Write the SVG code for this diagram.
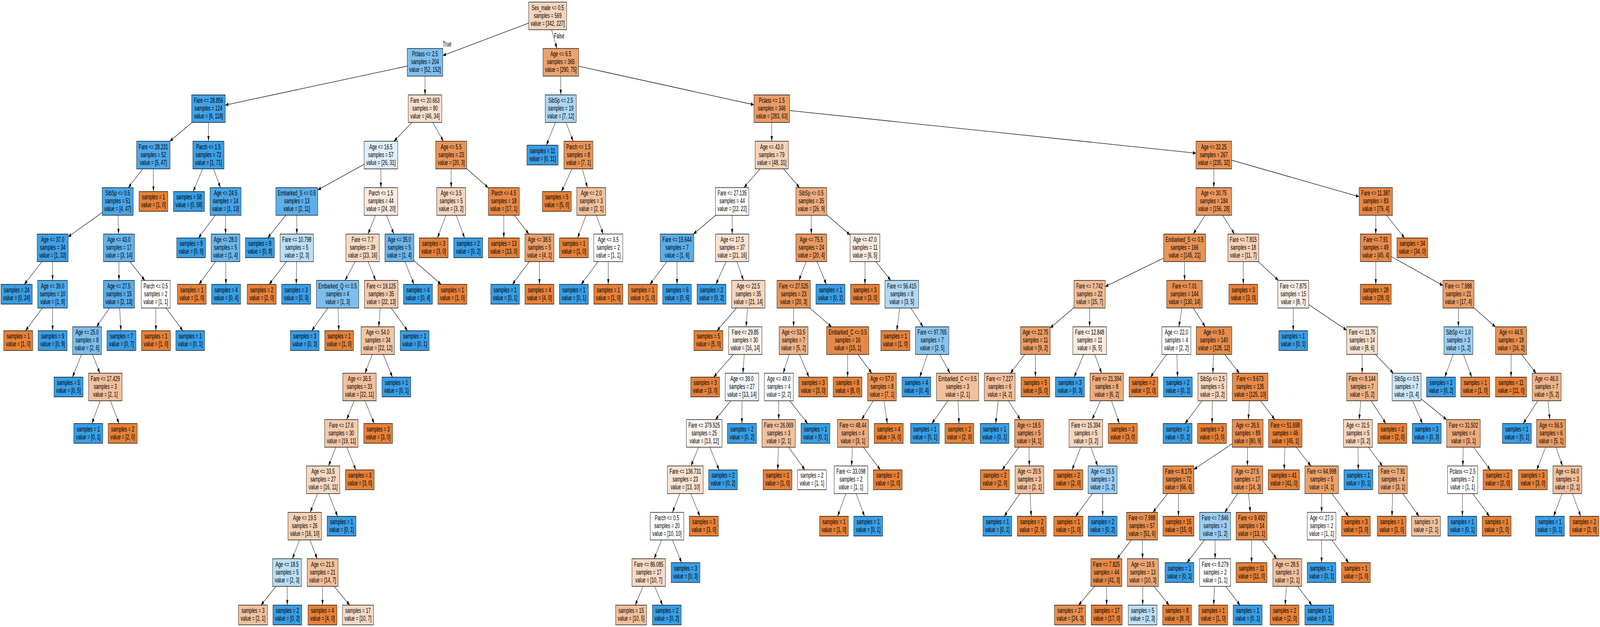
<svg xmlns="http://www.w3.org/2000/svg" width="7007" height="1604" viewBox="0 0 7007 1604" preserveAspectRatio="none">
<defs>
<style>
svg{max-width:100vw}
.nd rect{stroke:#000;stroke-width:1.33}
text{font-family:"Liberation Sans",Arial,Helvetica,sans-serif;font-size:18.67px;text-anchor:middle;fill:#000}
.o{fill:#e58139}.u{fill:#399de5}.w{fill:#ffffff}
</style>
<marker id="ah" markerUnits="userSpaceOnUse" markerWidth="14" markerHeight="10" refX="13.3" refY="4.67" orient="auto" overflow="visible"><path d="M0,0L13.3,4.67L0,9.33z" fill="#000"/></marker>
</defs>
<rect x="0" y="0" width="7007" height="1604" fill="#fff"/>
<g id="connectors" stroke="#000" stroke-width="1.33" fill="none" marker-end="url(#ah)">
<line x1="2398.6" y1="40.67" x2="1939.3" y2="142.12"/>
<line x1="2398.6" y1="40.67" x2="2438.91" y2="124.01"/>
<line x1="1861.35" y1="159.34" x2="986.5" y2="268.81"/>
<line x1="1861.35" y1="159.34" x2="1861.3" y2="242.68"/>
<line x1="913" y1="278.01" x2="743.44" y2="361.35"/>
<line x1="913" y1="278.01" x2="913" y2="361.35"/>
<line x1="671.55" y1="396.68" x2="562.03" y2="480.02"/>
<line x1="671.55" y1="396.68" x2="671.86" y2="490.07"/>
<line x1="515.6" y1="515.35" x2="298.5" y2="605.75"/>
<line x1="515.6" y1="515.35" x2="519.25" y2="598.69"/>
<line x1="230.6" y1="634.02" x2="106.38" y2="727.41"/>
<line x1="230.6" y1="634.02" x2="230.32" y2="717.36"/>
<line x1="230.2" y1="752.69" x2="111.88" y2="846.08"/>
<line x1="230.2" y1="752.69" x2="230.48" y2="846.08"/>
<line x1="520.8" y1="634.02" x2="520.8" y2="717.36"/>
<line x1="520.8" y1="634.02" x2="634.01" y2="717.36"/>
<line x1="520.8" y1="752.69" x2="422.83" y2="836.03"/>
<line x1="520.8" y1="752.69" x2="529.61" y2="846.08"/>
<line x1="381.3" y1="871.36" x2="317.28" y2="964.75"/>
<line x1="381.3" y1="871.36" x2="437.38" y2="954.7"/>
<line x1="461.15" y1="990.03" x2="402.44" y2="1083.42"/>
<line x1="461.15" y1="990.03" x2="521.04" y2="1083.42"/>
<line x1="682" y1="752.69" x2="682.59" y2="846.08"/>
<line x1="682" y1="752.69" x2="800.87" y2="846.08"/>
<line x1="912.95" y1="396.68" x2="845.7" y2="490.07"/>
<line x1="912.95" y1="396.68" x2="965.59" y2="480.02"/>
<line x1="987.9" y1="515.35" x2="869.03" y2="608.74"/>
<line x1="987.9" y1="515.35" x2="987.65" y2="598.69"/>
<line x1="987.55" y1="634.02" x2="871.31" y2="727.41"/>
<line x1="987.55" y1="634.02" x2="989.6" y2="727.41"/>
<line x1="1861.3" y1="278.01" x2="1725.62" y2="361.35"/>
<line x1="1861.3" y1="278.01" x2="1941.78" y2="361.35"/>
<line x1="1668.1" y1="396.68" x2="1391.6" y2="485.77"/>
<line x1="1668.1" y1="396.68" x2="1668.1" y2="480.02"/>
<line x1="1299.8" y1="515.35" x2="1172.39" y2="608.74"/>
<line x1="1299.8" y1="515.35" x2="1299.84" y2="598.69"/>
<line x1="1299.85" y1="634.02" x2="1178.85" y2="727.41"/>
<line x1="1299.85" y1="634.02" x2="1297.49" y2="727.41"/>
<line x1="1668.1" y1="515.35" x2="1611.74" y2="598.69"/>
<line x1="1668.1" y1="515.35" x2="1724.91" y2="598.69"/>
<line x1="1587.85" y1="634.02" x2="1511.06" y2="717.36"/>
<line x1="1587.85" y1="634.02" x2="1645.19" y2="717.36"/>
<line x1="1478.5" y1="752.69" x2="1365.22" y2="846.08"/>
<line x1="1478.5" y1="752.69" x2="1483.81" y2="846.08"/>
<line x1="1669.5" y1="752.69" x2="1658.79" y2="836.03"/>
<line x1="1669.5" y1="752.69" x2="1784.67" y2="846.08"/>
<line x1="1654.25" y1="871.36" x2="1598.17" y2="954.7"/>
<line x1="1654.25" y1="871.36" x2="1718.55" y2="964.75"/>
<line x1="1574.4" y1="990.03" x2="1518.36" y2="1073.37"/>
<line x1="1574.4" y1="990.03" x2="1638.7" y2="1083.42"/>
<line x1="1494.6" y1="1108.7" x2="1438.52" y2="1192.04"/>
<line x1="1494.6" y1="1108.7" x2="1558.31" y2="1202.09"/>
<line x1="1414.75" y1="1227.37" x2="1358.39" y2="1310.71"/>
<line x1="1414.75" y1="1227.37" x2="1478.49" y2="1320.76"/>
<line x1="1334.5" y1="1346.04" x2="1280.28" y2="1429.38"/>
<line x1="1334.5" y1="1346.04" x2="1389.16" y2="1429.38"/>
<line x1="1257.3" y1="1464.71" x2="1142.83" y2="1548.02"/>
<line x1="1257.3" y1="1464.71" x2="1258.18" y2="1548.02"/>
<line x1="1412.9" y1="1464.71" x2="1412.29" y2="1548.02"/>
<line x1="1412.9" y1="1464.71" x2="1531.67" y2="1548.02"/>
<line x1="1749" y1="634.02" x2="1813.06" y2="727.41"/>
<line x1="1749" y1="634.02" x2="1931.66" y2="727.41"/>
<line x1="1975.9" y1="396.68" x2="1975.86" y2="480.02"/>
<line x1="1975.9" y1="396.68" x2="2138.5" y2="480.39"/>
<line x1="1975.85" y1="515.35" x2="1915.65" y2="608.74"/>
<line x1="1975.85" y1="515.35" x2="2034.56" y2="608.74"/>
<line x1="2206.4" y1="515.35" x2="2206.4" y2="608.74"/>
<line x1="2206.4" y1="515.35" x2="2315.95" y2="598.69"/>
<line x1="2362.4" y1="634.02" x2="2244.04" y2="727.41"/>
<line x1="2362.4" y1="634.02" x2="2362.4" y2="727.41"/>
<line x1="2456" y1="159.34" x2="2455.79" y2="242.68"/>
<line x1="2456" y1="159.34" x2="3301.9" y2="268"/>
<line x1="2455.7" y1="278.01" x2="2392.98" y2="371.4"/>
<line x1="2455.7" y1="278.01" x2="2510.16" y2="361.35"/>
<line x1="2533.25" y1="396.68" x2="2458.68" y2="490.07"/>
<line x1="2533.25" y1="396.68" x2="2572.58" y2="480.02"/>
<line x1="2589.25" y1="515.35" x2="2529.36" y2="608.74"/>
<line x1="2589.25" y1="515.35" x2="2641.64" y2="598.69"/>
<line x1="2663.85" y1="634.02" x2="2545.25" y2="727.41"/>
<line x1="2663.85" y1="634.02" x2="2663.85" y2="727.41"/>
<line x1="3379.85" y1="278.01" x2="3379.78" y2="361.35"/>
<line x1="3379.85" y1="278.01" x2="5237.8" y2="391.9"/>
<line x1="3379.75" y1="396.68" x2="3257.94" y2="480.02"/>
<line x1="3379.75" y1="396.68" x2="3501.35" y2="480.02"/>
<line x1="3206.3" y1="515.35" x2="3036.77" y2="598.69"/>
<line x1="3206.3" y1="515.35" x2="3206.3" y2="598.69"/>
<line x1="2964.9" y1="634.02" x2="2846.58" y2="727.41"/>
<line x1="2964.9" y1="634.02" x2="2964.94" y2="727.41"/>
<line x1="3206.3" y1="634.02" x2="3135.28" y2="727.41"/>
<line x1="3206.3" y1="634.02" x2="3256.06" y2="717.36"/>
<line x1="3277.15" y1="752.69" x2="3139.78" y2="846.08"/>
<line x1="3277.15" y1="752.69" x2="3267.74" y2="836.03"/>
<line x1="3263.75" y1="871.36" x2="3125.48" y2="964.75"/>
<line x1="3263.75" y1="871.36" x2="3253.53" y2="954.7"/>
<line x1="3249.2" y1="990.03" x2="3133.15" y2="1073.37"/>
<line x1="3249.2" y1="990.03" x2="3249.2" y2="1083.42"/>
<line x1="3083.95" y1="1108.7" x2="3025.8" y2="1192.04"/>
<line x1="3083.95" y1="1108.7" x2="3148.87" y2="1202.09"/>
<line x1="3001.15" y1="1227.37" x2="2944.79" y2="1310.71"/>
<line x1="3001.15" y1="1227.37" x2="3065.13" y2="1320.76"/>
<line x1="2920.9" y1="1346.04" x2="2864.82" y2="1429.38"/>
<line x1="2920.9" y1="1346.04" x2="2984.92" y2="1439.43"/>
<line x1="2841.05" y1="1464.71" x2="2781.82" y2="1548.02"/>
<line x1="2841.05" y1="1464.71" x2="2901.74" y2="1548.02"/>
<line x1="3552.9" y1="515.35" x2="3552.9" y2="598.69"/>
<line x1="3552.9" y1="515.35" x2="3722.7" y2="601.08"/>
<line x1="3552.9" y1="634.02" x2="3498.68" y2="717.36"/>
<line x1="3552.9" y1="634.02" x2="3618.97" y2="727.41"/>
<line x1="3475.7" y1="752.69" x2="3475.45" y2="836.03"/>
<line x1="3475.7" y1="752.69" x2="3641.79" y2="836.03"/>
<line x1="3475.35" y1="871.36" x2="3429.98" y2="954.7"/>
<line x1="3475.35" y1="871.36" x2="3542.83" y2="964.75"/>
<line x1="3410.75" y1="990.03" x2="3410.29" y2="1073.37"/>
<line x1="3410.75" y1="990.03" x2="3537.02" y2="1083.42"/>
<line x1="3410.1" y1="1108.7" x2="3406.2" y2="1202.09"/>
<line x1="3410.1" y1="1108.7" x2="3524.84" y2="1202.09"/>
<line x1="3712.2" y1="871.36" x2="3711.92" y2="964.75"/>
<line x1="3712.2" y1="871.36" x2="3817.79" y2="954.7"/>
<line x1="3862.55" y1="990.03" x2="3773.22" y2="1073.37"/>
<line x1="3862.55" y1="990.03" x2="3885.77" y2="1083.42"/>
<line x1="3735.35" y1="1108.7" x2="3729.35" y2="1192.04"/>
<line x1="3735.35" y1="1108.7" x2="3855.44" y2="1202.09"/>
<line x1="3726.8" y1="1227.37" x2="3668.05" y2="1320.76"/>
<line x1="3726.8" y1="1227.37" x2="3786.1" y2="1320.76"/>
<line x1="3787.95" y1="634.02" x2="3787.95" y2="727.41"/>
<line x1="3787.95" y1="634.02" x2="3901.12" y2="717.36"/>
<line x1="3949.1" y1="752.69" x2="3927.1" y2="846.08"/>
<line x1="3949.1" y1="752.69" x2="4042.64" y2="836.03"/>
<line x1="4082.3" y1="871.36" x2="4027.96" y2="964.75"/>
<line x1="4082.3" y1="871.36" x2="4160.39" y2="954.7"/>
<line x1="4193.5" y1="990.03" x2="4081.08" y2="1083.42"/>
<line x1="4193.5" y1="990.03" x2="4199.68" y2="1083.42"/>
<line x1="5315.8" y1="396.68" x2="5315.8" y2="480.02"/>
<line x1="5315.8" y1="396.68" x2="5951.9" y2="503.11"/>
<line x1="5315.8" y1="515.35" x2="5225.91" y2="598.69"/>
<line x1="5315.8" y1="515.35" x2="5406.43" y2="598.69"/>
<line x1="5187.8" y1="634.02" x2="4840.1" y2="733.22"/>
<line x1="5187.8" y1="634.02" x2="5187.55" y2="717.36"/>
<line x1="4771.85" y1="752.69" x2="4599.4" y2="838.91"/>
<line x1="4771.85" y1="752.69" x2="4771.8" y2="836.03"/>
<line x1="4534.5" y1="871.36" x2="4424.7" y2="954.7"/>
<line x1="4534.5" y1="871.36" x2="4534.5" y2="964.75"/>
<line x1="4378.15" y1="990.03" x2="4360.52" y2="1083.42"/>
<line x1="4378.15" y1="990.03" x2="4468.32" y2="1073.37"/>
<line x1="4506.55" y1="1108.7" x2="4388.78" y2="1202.09"/>
<line x1="4506.55" y1="1108.7" x2="4507.6" y2="1192.04"/>
<line x1="4508.05" y1="1227.37" x2="4397.64" y2="1320.76"/>
<line x1="4508.05" y1="1227.37" x2="4516.23" y2="1320.76"/>
<line x1="4771.8" y1="871.36" x2="4703.88" y2="964.75"/>
<line x1="4771.8" y1="871.36" x2="4824.51" y2="954.7"/>
<line x1="4846.85" y1="990.03" x2="4782.63" y2="1073.37"/>
<line x1="4846.85" y1="990.03" x2="4902.02" y2="1083.42"/>
<line x1="4755.4" y1="1108.7" x2="4695.04" y2="1202.09"/>
<line x1="4755.4" y1="1108.7" x2="4807.02" y2="1192.04"/>
<line x1="4828.9" y1="1227.37" x2="4710.7" y2="1320.76"/>
<line x1="4828.9" y1="1227.37" x2="4828.9" y2="1320.76"/>
<line x1="5187.45" y1="752.69" x2="5162.55" y2="836.03"/>
<line x1="5187.45" y1="752.69" x2="5278.11" y2="836.03"/>
<line x1="5152" y1="871.36" x2="5038.4" y2="964.75"/>
<line x1="5152" y1="871.36" x2="5157" y2="964.75"/>
<line x1="5316.55" y1="871.36" x2="5311.56" y2="954.7"/>
<line x1="5316.55" y1="871.36" x2="5427.65" y2="954.7"/>
<line x1="5309.45" y1="990.03" x2="5189.63" y2="1083.42"/>
<line x1="5309.45" y1="990.03" x2="5308.27" y2="1083.42"/>
<line x1="5474.75" y1="990.03" x2="5467.13" y2="1073.37"/>
<line x1="5474.75" y1="990.03" x2="5582.93" y2="1073.37"/>
<line x1="5463.9" y1="1108.7" x2="5228.9" y2="1200.75"/>
<line x1="5463.9" y1="1108.7" x2="5462.85" y2="1192.04"/>
<line x1="5160.95" y1="1227.37" x2="5048.83" y2="1310.71"/>
<line x1="5160.95" y1="1227.37" x2="5160.95" y2="1320.76"/>
<line x1="5001.3" y1="1346.04" x2="4891.75" y2="1429.38"/>
<line x1="5001.3" y1="1346.04" x2="5003.93" y2="1429.38"/>
<line x1="4845.3" y1="1464.71" x2="4723.2" y2="1548.02"/>
<line x1="4845.3" y1="1464.71" x2="4846.45" y2="1548.02"/>
<line x1="5005.05" y1="1464.71" x2="5004.21" y2="1548.02"/>
<line x1="5005.05" y1="1464.71" x2="5119.83" y2="1548.02"/>
<line x1="5462.4" y1="1227.37" x2="5363.38" y2="1310.71"/>
<line x1="5462.4" y1="1227.37" x2="5475.53" y2="1310.71"/>
<line x1="5321.4" y1="1346.04" x2="5198.36" y2="1439.43"/>
<line x1="5321.4" y1="1346.04" x2="5321.4" y2="1429.38"/>
<line x1="5321.4" y1="1464.71" x2="5315.11" y2="1548.02"/>
<line x1="5321.4" y1="1464.71" x2="5430.73" y2="1548.02"/>
<line x1="5481.1" y1="1346.04" x2="5481.1" y2="1439.43"/>
<line x1="5481.1" y1="1346.04" x2="5590.9" y2="1429.38"/>
<line x1="5637.45" y1="1464.71" x2="5628.24" y2="1548.02"/>
<line x1="5637.45" y1="1464.71" x2="5745.01" y2="1548.02"/>
<line x1="5628.8" y1="1108.7" x2="5623.84" y2="1202.09"/>
<line x1="5628.8" y1="1108.7" x2="5740.67" y2="1192.04"/>
<line x1="5788.1" y1="1227.37" x2="5787.82" y2="1310.71"/>
<line x1="5788.1" y1="1227.37" x2="5906.15" y2="1320.76"/>
<line x1="5787.7" y1="1346.04" x2="5787.7" y2="1439.43"/>
<line x1="5787.7" y1="1346.04" x2="5906.06" y2="1439.43"/>
<line x1="5444.85" y1="634.02" x2="5444.9" y2="727.41"/>
<line x1="5444.85" y1="634.02" x2="5598.68" y2="717.36"/>
<line x1="5663.9" y1="752.69" x2="5663.6" y2="846.08"/>
<line x1="5663.9" y1="752.69" x2="5897.4" y2="844.63"/>
<line x1="5965.3" y1="871.36" x2="5965.3" y2="954.7"/>
<line x1="5965.3" y1="871.36" x2="6102.1" y2="954.7"/>
<line x1="5965.3" y1="990.03" x2="5952.24" y2="1073.37"/>
<line x1="5965.3" y1="990.03" x2="6069.3" y2="1083.42"/>
<line x1="5946.7" y1="1108.7" x2="5948.47" y2="1202.09"/>
<line x1="5946.7" y1="1108.7" x2="6054.39" y2="1192.04"/>
<line x1="6100.05" y1="1227.37" x2="6095.96" y2="1320.76"/>
<line x1="6100.05" y1="1227.37" x2="6214.24" y2="1320.76"/>
<line x1="6160.1" y1="990.03" x2="6229.39" y2="1083.42"/>
<line x1="6160.1" y1="990.03" x2="6335.5" y2="1073.66"/>
<line x1="6409" y1="1108.7" x2="6406.37" y2="1192.04"/>
<line x1="6409" y1="1108.7" x2="6526.69" y2="1202.09"/>
<line x1="6405.25" y1="1227.37" x2="6404.34" y2="1320.76"/>
<line x1="6405.25" y1="1227.37" x2="6522.67" y2="1320.76"/>
<line x1="6025.05" y1="515.35" x2="6025" y2="598.69"/>
<line x1="6025.05" y1="515.35" x2="6151" y2="608.74"/>
<line x1="6025" y1="634.02" x2="6025" y2="727.41"/>
<line x1="6025" y1="634.02" x2="6319" y2="730.42"/>
<line x1="6386.9" y1="752.69" x2="6386.9" y2="836.03"/>
<line x1="6386.9" y1="752.69" x2="6549.6" y2="836.42"/>
<line x1="6386.9" y1="871.36" x2="6327.01" y2="964.75"/>
<line x1="6386.9" y1="871.36" x2="6445.06" y2="964.75"/>
<line x1="6617.5" y1="871.36" x2="6617.5" y2="964.75"/>
<line x1="6617.5" y1="871.36" x2="6727.02" y2="954.7"/>
<line x1="6773.45" y1="990.03" x2="6670.67" y2="1083.42"/>
<line x1="6773.45" y1="990.03" x2="6787.07" y2="1073.37"/>
<line x1="6792.85" y1="1108.7" x2="6730.01" y2="1202.09"/>
<line x1="6792.85" y1="1108.7" x2="6842.85" y2="1192.04"/>
<line x1="6864.05" y1="1227.37" x2="6803.89" y2="1320.76"/>
<line x1="6864.05" y1="1227.37" x2="6922.56" y2="1320.76"/>
</g>
<g id="edge-labels">
<text x="1957.6" y="118.7">True</text>
<text x="2448.9" y="98.2">False</text>
</g>
<g id="nodes" class="nd">
<g id="n0" transform="translate(2398.6 40.67)"><rect x="-83.2" y="-35.33" width="166.4" height="70.67" fill="#f6d5bc"/><text><tspan x="0" y="-15.07">Sex_male &lt;= 0.5</tspan><tspan x="0" y="4.93">samples = 569</tspan><tspan x="0" y="24.93">value = [342, 227]</tspan></text></g>
<g id="n1" transform="translate(1861.35 159.34)"><rect x="-77.95" y="-35.33" width="155.9" height="70.67" fill="#7dbfee"/><text><tspan x="0" y="-15.07">Pclass &lt;= 2.5</tspan><tspan x="0" y="4.93">samples = 204</tspan><tspan x="0" y="24.93">value = [52, 152]</tspan></text></g>
<g id="n2" transform="translate(913 278.01)"><rect x="-73.5" y="-35.33" width="147" height="70.67" fill="#43a2e6"/><text><tspan x="0" y="-15.07">Fare &lt;= 28.856</tspan><tspan x="0" y="4.93">samples = 124</tspan><tspan x="0" y="24.93">value = [6, 118]</tspan></text></g>
<g id="n3" transform="translate(671.55 396.68)"><rect x="-73.15" y="-35.33" width="146.3" height="70.67" fill="#4ea7e8"/><text><tspan x="0" y="-15.07">Fare &lt;= 28.231</tspan><tspan x="0" y="4.93">samples = 52</tspan><tspan x="0" y="24.93">value = [5, 47]</tspan></text></g>
<g id="n4" transform="translate(515.6 515.35)"><rect x="-67.9" y="-35.33" width="135.8" height="70.67" fill="#4aa5e7"/><text><tspan x="0" y="-15.07">SibSp &lt;= 0.5</tspan><tspan x="0" y="4.93">samples = 51</tspan><tspan x="0" y="24.93">value = [4, 47]</tspan></text></g>
<g id="n5" transform="translate(230.6 634.02)"><rect x="-67.9" y="-35.33" width="135.8" height="70.67" fill="#3fa0e6"/><text><tspan x="0" y="-15.07">Age &lt;= 37.0</tspan><tspan x="0" y="4.93">samples = 34</tspan><tspan x="0" y="24.93">value = [1, 33]</tspan></text></g>
<g id="n6" transform="translate(72.75 752.69)"><rect x="-68.25" y="-25.28" width="136.5" height="50.56" class="u"/><text><tspan x="0" y="-5.07">samples = 24</tspan><tspan x="0" y="14.93">value = [0, 24]</tspan></text></g>
<g id="n7" transform="translate(230.2 752.69)"><rect x="-65.3" y="-35.33" width="130.6" height="70.67" fill="#4fa8e8"/><text><tspan x="0" y="-15.07">Age &lt;= 39.0</tspan><tspan x="0" y="4.93">samples = 10</tspan><tspan x="0" y="24.93">value = [1, 9]</tspan></text></g>
<g id="n8" transform="translate(79.85 871.36)"><rect x="-63.45" y="-25.28" width="126.9" height="50.56" class="o"/><text><tspan x="0" y="-5.07">samples = 1</tspan><tspan x="0" y="14.93">value = [1, 0]</tspan></text></g>
<g id="n9" transform="translate(230.55 871.36)"><rect x="-63.45" y="-25.28" width="126.9" height="50.56" class="u"/><text><tspan x="0" y="-5.07">samples = 9</tspan><tspan x="0" y="14.93">value = [0, 9]</tspan></text></g>
<g id="n10" transform="translate(520.8 634.02)"><rect x="-67.9" y="-35.33" width="135.8" height="70.67" fill="#63b2eb"/><text><tspan x="0" y="-15.07">Age &lt;= 43.0</tspan><tspan x="0" y="4.93">samples = 17</tspan><tspan x="0" y="24.93">value = [3, 14]</tspan></text></g>
<g id="n11" transform="translate(520.8 752.69)"><rect x="-67.9" y="-35.33" width="135.8" height="70.67" fill="#57ace9"/><text><tspan x="0" y="-15.07">Age &lt;= 27.5</tspan><tspan x="0" y="4.93">samples = 15</tspan><tspan x="0" y="24.93">value = [2, 13]</tspan></text></g>
<g id="n12" transform="translate(381.3 871.36)"><rect x="-63.4" y="-35.33" width="126.8" height="70.67" fill="#7bbeee"/><text><tspan x="0" y="-15.07">Age &lt;= 25.0</tspan><tspan x="0" y="4.93">samples = 8</tspan><tspan x="0" y="24.93">value = [2, 6]</tspan></text></g>
<g id="n13" transform="translate(299.95 990.03)"><rect x="-63.45" y="-25.28" width="126.9" height="50.56" class="u"/><text><tspan x="0" y="-5.07">samples = 5</tspan><tspan x="0" y="14.93">value = [0, 5]</tspan></text></g>
<g id="n14" transform="translate(461.15 990.03)"><rect x="-73.15" y="-35.33" width="146.3" height="70.67" fill="#f2c09c"/><text><tspan x="0" y="-15.07">Fare &lt;= 17.429</tspan><tspan x="0" y="4.93">samples = 3</tspan><tspan x="0" y="24.93">value = [2, 1]</tspan></text></g>
<g id="n15" transform="translate(386.55 1108.7)"><rect x="-63.45" y="-25.28" width="126.9" height="50.56" class="u"/><text><tspan x="0" y="-5.07">samples = 1</tspan><tspan x="0" y="14.93">value = [0, 1]</tspan></text></g>
<g id="n16" transform="translate(537.25 1108.7)"><rect x="-63.45" y="-25.28" width="126.9" height="50.56" class="o"/><text><tspan x="0" y="-5.07">samples = 2</tspan><tspan x="0" y="14.93">value = [2, 0]</tspan></text></g>
<g id="n17" transform="translate(532 871.36)"><rect x="-63.4" y="-25.28" width="126.8" height="50.56" class="u"/><text><tspan x="0" y="-5.07">samples = 7</tspan><tspan x="0" y="14.93">value = [0, 7]</tspan></text></g>
<g id="n18" transform="translate(682 752.69)"><rect x="-63.4" y="-35.33" width="126.8" height="70.67" class="w"/><text><tspan x="0" y="-15.07">Parch &lt;= 0.5</tspan><tspan x="0" y="4.93">samples = 2</tspan><tspan x="0" y="24.93">value = [1, 1]</tspan></text></g>
<g id="n19" transform="translate(682.75 871.36)"><rect x="-63.45" y="-25.28" width="126.9" height="50.56" class="o"/><text><tspan x="0" y="-5.07">samples = 1</tspan><tspan x="0" y="14.93">value = [1, 0]</tspan></text></g>
<g id="n20" transform="translate(833.05 871.36)"><rect x="-63.05" y="-25.28" width="126.1" height="50.56" class="u"/><text><tspan x="0" y="-5.07">samples = 1</tspan><tspan x="0" y="14.93">value = [0, 1]</tspan></text></g>
<g id="n21" transform="translate(671.95 515.35)"><rect x="-63.05" y="-25.28" width="126.1" height="50.56" class="o"/><text><tspan x="0" y="-5.07">samples = 1</tspan><tspan x="0" y="14.93">value = [1, 0]</tspan></text></g>
<g id="n22" transform="translate(912.95 396.68)"><rect x="-68.25" y="-35.33" width="136.5" height="70.67" fill="#3c9ee5"/><text><tspan x="0" y="-15.07">Parch &lt;= 1.5</tspan><tspan x="0" y="4.93">samples = 72</tspan><tspan x="0" y="24.93">value = [1, 71]</tspan></text></g>
<g id="n23" transform="translate(827.5 515.35)"><rect x="-67.9" y="-25.28" width="135.8" height="50.56" class="u"/><text><tspan x="0" y="-5.07">samples = 58</tspan><tspan x="0" y="14.93">value = [0, 58]</tspan></text></g>
<g id="n24" transform="translate(987.9 515.35)"><rect x="-67.9" y="-35.33" width="135.8" height="70.67" fill="#48a4e7"/><text><tspan x="0" y="-15.07">Age &lt;= 24.5</tspan><tspan x="0" y="4.93">samples = 14</tspan><tspan x="0" y="24.93">value = [1, 13]</tspan></text></g>
<g id="n25" transform="translate(836.85 634.02)"><rect x="-63.05" y="-25.28" width="126.1" height="50.56" class="u"/><text><tspan x="0" y="-5.07">samples = 9</tspan><tspan x="0" y="14.93">value = [0, 9]</tspan></text></g>
<g id="n26" transform="translate(987.55 634.02)"><rect x="-63.05" y="-35.33" width="126.1" height="70.67" fill="#6ab6ec"/><text><tspan x="0" y="-15.07">Age &lt;= 28.0</tspan><tspan x="0" y="4.93">samples = 5</tspan><tspan x="0" y="24.93">value = [1, 4]</tspan></text></g>
<g id="n27" transform="translate(839.85 752.69)"><rect x="-63.05" y="-25.28" width="126.1" height="50.56" class="o"/><text><tspan x="0" y="-5.07">samples = 1</tspan><tspan x="0" y="14.93">value = [1, 0]</tspan></text></g>
<g id="n28" transform="translate(990.15 752.69)"><rect x="-63.45" y="-25.28" width="126.9" height="50.56" class="u"/><text><tspan x="0" y="-5.07">samples = 4</tspan><tspan x="0" y="14.93">value = [0, 4]</tspan></text></g>
<g id="n29" transform="translate(1861.3 278.01)"><rect x="-73.5" y="-35.33" width="147" height="70.67" fill="#f8decb"/><text><tspan x="0" y="-15.07">Fare &lt;= 20.663</tspan><tspan x="0" y="4.93">samples = 80</tspan><tspan x="0" y="24.93">value = [46, 34]</tspan></text></g>
<g id="n30" transform="translate(1668.1 396.68)"><rect x="-73.5" y="-35.33" width="147" height="70.67" fill="#dfeffb"/><text><tspan x="0" y="-15.07">Age &lt;= 16.5</tspan><tspan x="0" y="4.93">samples = 57</tspan><tspan x="0" y="24.93">value = [26, 31]</tspan></text></g>
<g id="n31" transform="translate(1299.8 515.35)"><rect x="-91.8" y="-35.33" width="183.6" height="70.67" fill="#5dafea"/><text><tspan x="0" y="-15.07">Embarked_S &lt;= 0.5</tspan><tspan x="0" y="4.93">samples = 13</tspan><tspan x="0" y="24.93">value = [2, 11]</tspan></text></g>
<g id="n32" transform="translate(1137.9 634.02)"><rect x="-63.4" y="-25.28" width="126.8" height="50.56" class="u"/><text><tspan x="0" y="-5.07">samples = 8</tspan><tspan x="0" y="14.93">value = [0, 8]</tspan></text></g>
<g id="n33" transform="translate(1299.85 634.02)"><rect x="-73.15" y="-35.33" width="146.3" height="70.67" fill="#bddef6"/><text><tspan x="0" y="-15.07">Fare &lt;= 10.798</tspan><tspan x="0" y="4.93">samples = 5</tspan><tspan x="0" y="24.93">value = [2, 3]</tspan></text></g>
<g id="n34" transform="translate(1146.1 752.69)"><rect x="-63.45" y="-25.28" width="126.9" height="50.56" class="o"/><text><tspan x="0" y="-5.07">samples = 2</tspan><tspan x="0" y="14.93">value = [2, 0]</tspan></text></g>
<g id="n35" transform="translate(1296.85 752.69)"><rect x="-63.45" y="-25.28" width="126.9" height="50.56" class="u"/><text><tspan x="0" y="-5.07">samples = 3</tspan><tspan x="0" y="14.93">value = [0, 3]</tspan></text></g>
<g id="n36" transform="translate(1668.1 515.35)"><rect x="-73.5" y="-35.33" width="147" height="70.67" fill="#fbeade"/><text><tspan x="0" y="-15.07">Parch &lt;= 1.5</tspan><tspan x="0" y="4.93">samples = 44</tspan><tspan x="0" y="24.93">value = [24, 20]</tspan></text></g>
<g id="n37" transform="translate(1587.85 634.02)"><rect x="-73.15" y="-35.33" width="146.3" height="70.67" fill="#f7d9c3"/><text><tspan x="0" y="-15.07">Fare &lt;= 7.7</tspan><tspan x="0" y="4.93">samples = 39</tspan><tspan x="0" y="24.93">value = [23, 16]</tspan></text></g>
<g id="n38" transform="translate(1478.5 752.69)"><rect x="-92.9" y="-35.33" width="185.8" height="70.67" fill="#7bbeee"/><text><tspan x="0" y="-15.07">Embarked_Q &lt;= 0.5</tspan><tspan x="0" y="4.93">samples = 4</tspan><tspan x="0" y="24.93">value = [1, 3]</tspan></text></g>
<g id="n39" transform="translate(1334.55 871.36)"><rect x="-63.05" y="-25.28" width="126.1" height="50.56" class="u"/><text><tspan x="0" y="-5.07">samples = 3</tspan><tspan x="0" y="14.93">value = [0, 3]</tspan></text></g>
<g id="n40" transform="translate(1485.25 871.36)"><rect x="-63.05" y="-25.28" width="126.1" height="50.56" class="o"/><text><tspan x="0" y="-5.07">samples = 1</tspan><tspan x="0" y="14.93">value = [1, 0]</tspan></text></g>
<g id="n41" transform="translate(1669.5 752.69)"><rect x="-73.5" y="-35.33" width="147" height="70.67" fill="#f4cbae"/><text><tspan x="0" y="-15.07">Fare &lt;= 19.125</tspan><tspan x="0" y="4.93">samples = 35</tspan><tspan x="0" y="24.93">value = [22, 13]</tspan></text></g>
<g id="n42" transform="translate(1654.25 871.36)"><rect x="-73.15" y="-35.33" width="146.3" height="70.67" fill="#f3c6a5"/><text><tspan x="0" y="-15.07">Age &lt;= 54.0</tspan><tspan x="0" y="4.93">samples = 34</tspan><tspan x="0" y="24.93">value = [22, 12]</tspan></text></g>
<g id="n43" transform="translate(1574.4 990.03)"><rect x="-73.1" y="-35.33" width="146.2" height="70.67" fill="#f2c09c"/><text><tspan x="0" y="-15.07">Age &lt;= 36.5</tspan><tspan x="0" y="4.93">samples = 33</tspan><tspan x="0" y="24.93">value = [22, 11]</tspan></text></g>
<g id="n44" transform="translate(1494.6 1108.7)"><rect x="-73.1" y="-35.33" width="146.2" height="70.67" fill="#f4caac"/><text><tspan x="0" y="-15.07">Fare &lt;= 17.6</tspan><tspan x="0" y="4.93">samples = 30</tspan><tspan x="0" y="24.93">value = [19, 11]</tspan></text></g>
<g id="n45" transform="translate(1414.75 1227.37)"><rect x="-73.15" y="-35.33" width="146.3" height="70.67" fill="#f7d8c1"/><text><tspan x="0" y="-15.07">Age &lt;= 33.5</tspan><tspan x="0" y="4.93">samples = 27</tspan><tspan x="0" y="24.93">value = [16, 11]</tspan></text></g>
<g id="n46" transform="translate(1334.5 1346.04)"><rect x="-73.5" y="-35.33" width="147" height="70.67" fill="#f5d0b5"/><text><tspan x="0" y="-15.07">Age &lt;= 19.5</tspan><tspan x="0" y="4.93">samples = 26</tspan><tspan x="0" y="24.93">value = [16, 10]</tspan></text></g>
<g id="n47" transform="translate(1257.3 1464.71)"><rect x="-63.4" y="-35.33" width="126.8" height="70.67" fill="#bddef6"/><text><tspan x="0" y="-15.07">Age &lt;= 18.5</tspan><tspan x="0" y="4.93">samples = 5</tspan><tspan x="0" y="24.93">value = [2, 3]</tspan></text></g>
<g id="n48" transform="translate(1108.1 1573.3)"><rect x="-63.5" y="-25.28" width="127" height="50.56" fill="#f2c09c"/><text><tspan x="0" y="-5.07">samples = 3</tspan><tspan x="0" y="14.93">value = [2, 1]</tspan></text></g>
<g id="n49" transform="translate(1258.45 1573.3)"><rect x="-63.05" y="-25.28" width="126.1" height="50.56" class="u"/><text><tspan x="0" y="-5.07">samples = 2</tspan><tspan x="0" y="14.93">value = [0, 2]</tspan></text></g>
<g id="n50" transform="translate(1412.9 1464.71)"><rect x="-67.5" y="-35.33" width="135" height="70.67" fill="#f2c09c"/><text><tspan x="0" y="-15.07">Age &lt;= 21.5</tspan><tspan x="0" y="4.93">samples = 21</tspan><tspan x="0" y="24.93">value = [14, 7]</tspan></text></g>
<g id="n51" transform="translate(1412.1 1573.3)"><rect x="-63.1" y="-25.28" width="126.2" height="50.56" class="o"/><text><tspan x="0" y="-5.07">samples = 4</tspan><tspan x="0" y="14.93">value = [4, 0]</tspan></text></g>
<g id="n52" transform="translate(1567.7 1573.3)"><rect x="-67.9" y="-25.28" width="135.8" height="50.56" fill="#f7d9c4"/><text><tspan x="0" y="-5.07">samples = 17</tspan><tspan x="0" y="14.93">value = [10, 7]</tspan></text></g>
<g id="n53" transform="translate(1495.75 1346.04)"><rect x="-63.05" y="-25.28" width="126.1" height="50.56" class="u"/><text><tspan x="0" y="-5.07">samples = 1</tspan><tspan x="0" y="14.93">value = [0, 1]</tspan></text></g>
<g id="n54" transform="translate(1575.55 1227.37)"><rect x="-63.05" y="-25.28" width="126.1" height="50.56" class="o"/><text><tspan x="0" y="-5.07">samples = 3</tspan><tspan x="0" y="14.93">value = [3, 0]</tspan></text></g>
<g id="n55" transform="translate(1656.1 1108.7)"><rect x="-63.1" y="-25.28" width="126.2" height="50.56" class="o"/><text><tspan x="0" y="-5.07">samples = 3</tspan><tspan x="0" y="14.93">value = [3, 0]</tspan></text></g>
<g id="n56" transform="translate(1735.95 990.03)"><rect x="-63.05" y="-25.28" width="126.1" height="50.56" class="u"/><text><tspan x="0" y="-5.07">samples = 1</tspan><tspan x="0" y="14.93">value = [0, 1]</tspan></text></g>
<g id="n57" transform="translate(1815.85 871.36)"><rect x="-63.05" y="-25.28" width="126.1" height="50.56" class="u"/><text><tspan x="0" y="-5.07">samples = 1</tspan><tspan x="0" y="14.93">value = [0, 1]</tspan></text></g>
<g id="n58" transform="translate(1749 634.02)"><rect x="-63.4" y="-35.33" width="126.8" height="70.67" fill="#6ab6ec"/><text><tspan x="0" y="-15.07">Age &lt;= 35.0</tspan><tspan x="0" y="4.93">samples = 5</tspan><tspan x="0" y="24.93">value = [1, 4]</tspan></text></g>
<g id="n59" transform="translate(1830.4 752.69)"><rect x="-63.4" y="-25.28" width="126.8" height="50.56" class="u"/><text><tspan x="0" y="-5.07">samples = 4</tspan><tspan x="0" y="14.93">value = [0, 4]</tspan></text></g>
<g id="n60" transform="translate(1981.1 752.69)"><rect x="-63.4" y="-25.28" width="126.8" height="50.56" class="o"/><text><tspan x="0" y="-5.07">samples = 1</tspan><tspan x="0" y="14.93">value = [1, 0]</tspan></text></g>
<g id="n61" transform="translate(1975.9 396.68)"><rect x="-67.9" y="-35.33" width="135.8" height="70.67" fill="#e99457"/><text><tspan x="0" y="-15.07">Age &lt;= 5.5</tspan><tspan x="0" y="4.93">samples = 23</tspan><tspan x="0" y="24.93">value = [20, 3]</tspan></text></g>
<g id="n62" transform="translate(1975.85 515.35)"><rect x="-63.45" y="-35.33" width="126.9" height="70.67" fill="#f6d5bd"/><text><tspan x="0" y="-15.07">Age &lt;= 3.5</tspan><tspan x="0" y="4.93">samples = 5</tspan><tspan x="0" y="24.93">value = [3, 2]</tspan></text></g>
<g id="n63" transform="translate(1899.35 634.02)"><rect x="-63.05" y="-25.28" width="126.1" height="50.56" class="o"/><text><tspan x="0" y="-5.07">samples = 3</tspan><tspan x="0" y="14.93">value = [3, 0]</tspan></text></g>
<g id="n64" transform="translate(2050.45 634.02)"><rect x="-63.45" y="-25.28" width="126.9" height="50.56" class="u"/><text><tspan x="0" y="-5.07">samples = 2</tspan><tspan x="0" y="14.93">value = [0, 2]</tspan></text></g>
<g id="n65" transform="translate(2206.4 515.35)"><rect x="-67.9" y="-35.33" width="135.8" height="70.67" fill="#e78845"/><text><tspan x="0" y="-15.07">Parch &lt;= 4.5</tspan><tspan x="0" y="4.93">samples = 18</tspan><tspan x="0" y="24.93">value = [17, 1]</tspan></text></g>
<g id="n66" transform="translate(2206.4 634.02)"><rect x="-67.9" y="-25.28" width="135.8" height="50.56" class="o"/><text><tspan x="0" y="-5.07">samples = 13</tspan><tspan x="0" y="14.93">value = [13, 0]</tspan></text></g>
<g id="n67" transform="translate(2362.4 634.02)"><rect x="-63.4" y="-35.33" width="126.8" height="70.67" fill="#eca06a"/><text><tspan x="0" y="-15.07">Age &lt;= 38.5</tspan><tspan x="0" y="4.93">samples = 5</tspan><tspan x="0" y="24.93">value = [4, 1]</tspan></text></g>
<g id="n68" transform="translate(2212 752.69)"><rect x="-63" y="-25.28" width="126" height="50.56" class="u"/><text><tspan x="0" y="-5.07">samples = 1</tspan><tspan x="0" y="14.93">value = [0, 1]</tspan></text></g>
<g id="n69" transform="translate(2362.4 752.69)"><rect x="-63.4" y="-25.28" width="126.8" height="50.56" class="o"/><text><tspan x="0" y="-5.07">samples = 4</tspan><tspan x="0" y="14.93">value = [4, 0]</tspan></text></g>
<g id="n70" transform="translate(2456 159.34)"><rect x="-78" y="-35.33" width="156" height="70.67" fill="#eca26c"/><text><tspan x="0" y="-15.07">Age &lt;= 6.5</tspan><tspan x="0" y="4.93">samples = 365</tspan><tspan x="0" y="24.93">value = [290, 75]</tspan></text></g>
<g id="n71" transform="translate(2455.7 278.01)"><rect x="-67.9" y="-35.33" width="135.8" height="70.67" fill="#acd6f4"/><text><tspan x="0" y="-15.07">SibSp &lt;= 2.5</tspan><tspan x="0" y="4.93">samples = 19</tspan><tspan x="0" y="24.93">value = [7, 12]</tspan></text></g>
<g id="n72" transform="translate(2376 396.68)"><rect x="-68.5" y="-25.28" width="137" height="50.56" class="u"/><text><tspan x="0" y="-5.07">samples = 11</tspan><tspan x="0" y="14.93">value = [0, 11]</tspan></text></g>
<g id="n73" transform="translate(2533.25 396.68)"><rect x="-63.45" y="-35.33" width="126.9" height="70.67" fill="#e99355"/><text><tspan x="0" y="-15.07">Parch &lt;= 1.5</tspan><tspan x="0" y="4.93">samples = 8</tspan><tspan x="0" y="24.93">value = [7, 1]</tspan></text></g>
<g id="n74" transform="translate(2438.5 515.35)"><rect x="-63.5" y="-25.28" width="127" height="50.56" class="o"/><text><tspan x="0" y="-5.07">samples = 5</tspan><tspan x="0" y="14.93">value = [5, 0]</tspan></text></g>
<g id="n75" transform="translate(2589.25 515.35)"><rect x="-63.45" y="-35.33" width="126.9" height="70.67" fill="#f2c09c"/><text><tspan x="0" y="-15.07">Age &lt;= 2.0</tspan><tspan x="0" y="4.93">samples = 3</tspan><tspan x="0" y="24.93">value = [2, 1]</tspan></text></g>
<g id="n76" transform="translate(2513.15 634.02)"><rect x="-63.45" y="-25.28" width="126.9" height="50.56" class="o"/><text><tspan x="0" y="-5.07">samples = 1</tspan><tspan x="0" y="14.93">value = [1, 0]</tspan></text></g>
<g id="n77" transform="translate(2663.85 634.02)"><rect x="-63.45" y="-35.33" width="126.9" height="70.67" class="w"/><text><tspan x="0" y="-15.07">Age &lt;= 3.5</tspan><tspan x="0" y="4.93">samples = 2</tspan><tspan x="0" y="24.93">value = [1, 1]</tspan></text></g>
<g id="n78" transform="translate(2513.15 752.69)"><rect x="-63.45" y="-25.28" width="126.9" height="50.56" class="u"/><text><tspan x="0" y="-5.07">samples = 1</tspan><tspan x="0" y="14.93">value = [0, 1]</tspan></text></g>
<g id="n79" transform="translate(2663.85 752.69)"><rect x="-63.45" y="-25.28" width="126.9" height="50.56" class="o"/><text><tspan x="0" y="-5.07">samples = 1</tspan><tspan x="0" y="14.93">value = [1, 0]</tspan></text></g>
<g id="n80" transform="translate(3379.85 278.01)"><rect x="-77.95" y="-35.33" width="155.9" height="70.67" fill="#eb9d65"/><text><tspan x="0" y="-15.07">Pclass &lt;= 1.5</tspan><tspan x="0" y="4.93">samples = 346</tspan><tspan x="0" y="24.93">value = [283, 63]</tspan></text></g>
<g id="n81" transform="translate(3379.75 396.68)"><rect x="-72.75" y="-35.33" width="145.5" height="70.67" fill="#f6d2b9"/><text><tspan x="0" y="-15.07">Age &lt;= 43.0</tspan><tspan x="0" y="4.93">samples = 79</tspan><tspan x="0" y="24.93">value = [48, 31]</tspan></text></g>
<g id="n82" transform="translate(3206.3 515.35)"><rect x="-73.1" y="-35.33" width="146.2" height="70.67" class="w"/><text><tspan x="0" y="-15.07">Fare &lt;= 27.135</tspan><tspan x="0" y="4.93">samples = 44</tspan><tspan x="0" y="24.93">value = [22, 22]</tspan></text></g>
<g id="n83" transform="translate(2964.9 634.02)"><rect x="-73.5" y="-35.33" width="147" height="70.67" fill="#5aade9"/><text><tspan x="0" y="-15.07">Fare &lt;= 15.644</tspan><tspan x="0" y="4.93">samples = 7</tspan><tspan x="0" y="24.93">value = [1, 6]</tspan></text></g>
<g id="n84" transform="translate(2814.55 752.69)"><rect x="-63.45" y="-25.28" width="126.9" height="50.56" class="o"/><text><tspan x="0" y="-5.07">samples = 1</tspan><tspan x="0" y="14.93">value = [1, 0]</tspan></text></g>
<g id="n85" transform="translate(2964.95 752.69)"><rect x="-63.05" y="-25.28" width="126.1" height="50.56" class="u"/><text><tspan x="0" y="-5.07">samples = 6</tspan><tspan x="0" y="14.93">value = [0, 6]</tspan></text></g>
<g id="n86" transform="translate(3206.3 634.02)"><rect x="-73.1" y="-35.33" width="146.2" height="70.67" fill="#f9e1d0"/><text><tspan x="0" y="-15.07">Age &lt;= 17.5</tspan><tspan x="0" y="4.93">samples = 37</tspan><tspan x="0" y="24.93">value = [21, 16]</tspan></text></g>
<g id="n87" transform="translate(3116.05 752.69)"><rect x="-63.45" y="-25.28" width="126.9" height="50.56" class="u"/><text><tspan x="0" y="-5.07">samples = 2</tspan><tspan x="0" y="14.93">value = [0, 2]</tspan></text></g>
<g id="n88" transform="translate(3277.15 752.69)"><rect x="-73.15" y="-35.33" width="146.3" height="70.67" fill="#f6d5bd"/><text><tspan x="0" y="-15.07">Age &lt;= 22.5</tspan><tspan x="0" y="4.93">samples = 35</tspan><tspan x="0" y="24.93">value = [21, 14]</tspan></text></g>
<g id="n89" transform="translate(3102.6 871.36)"><rect x="-63.4" y="-25.28" width="126.8" height="50.56" class="o"/><text><tspan x="0" y="-5.07">samples = 5</tspan><tspan x="0" y="14.93">value = [5, 0]</tspan></text></g>
<g id="n90" transform="translate(3263.75 871.36)"><rect x="-73.15" y="-35.33" width="146.3" height="70.67" fill="#fcefe6"/><text><tspan x="0" y="-15.07">Fare &lt;= 29.85</tspan><tspan x="0" y="4.93">samples = 30</tspan><tspan x="0" y="24.93">value = [16, 14]</tspan></text></g>
<g id="n91" transform="translate(3088.05 990.03)"><rect x="-63.05" y="-25.28" width="126.1" height="50.56" class="o"/><text><tspan x="0" y="-5.07">samples = 3</tspan><tspan x="0" y="14.93">value = [3, 0]</tspan></text></g>
<g id="n92" transform="translate(3249.2 990.03)"><rect x="-73.5" y="-35.33" width="147" height="70.67" fill="#f1f8fd"/><text><tspan x="0" y="-15.07">Age &lt;= 39.0</tspan><tspan x="0" y="4.93">samples = 27</tspan><tspan x="0" y="24.93">value = [13, 14]</tspan></text></g>
<g id="n93" transform="translate(3083.95 1108.7)"><rect x="-78.35" y="-35.33" width="156.7" height="70.67" fill="#fdf5f0"/><text><tspan x="0" y="-15.07">Fare &lt;= 379.925</tspan><tspan x="0" y="4.93">samples = 25</tspan><tspan x="0" y="24.93">value = [13, 12]</tspan></text></g>
<g id="n94" transform="translate(3001.15 1227.37)"><rect x="-78.35" y="-35.33" width="156.7" height="70.67" fill="#f9e2d1"/><text><tspan x="0" y="-15.07">Fare &lt;= 136.731</tspan><tspan x="0" y="4.93">samples = 23</tspan><tspan x="0" y="24.93">value = [13, 10]</tspan></text></g>
<g id="n95" transform="translate(2920.9 1346.04)"><rect x="-73.5" y="-35.33" width="147" height="70.67" class="w"/><text><tspan x="0" y="-15.07">Parch &lt;= 0.5</tspan><tspan x="0" y="4.93">samples = 20</tspan><tspan x="0" y="24.93">value = [10, 10]</tspan></text></g>
<g id="n96" transform="translate(2841.05 1464.71)"><rect x="-73.45" y="-35.33" width="146.9" height="70.67" fill="#f7d9c4"/><text><tspan x="0" y="-15.07">Fare &lt;= 86.085</tspan><tspan x="0" y="4.93">samples = 17</tspan><tspan x="0" y="24.93">value = [10, 7]</tspan></text></g>
<g id="n97" transform="translate(2763.85 1573.3)"><rect x="-67.85" y="-25.28" width="135.7" height="50.56" fill="#f2c09c"/><text><tspan x="0" y="-5.07">samples = 15</tspan><tspan x="0" y="14.93">value = [10, 5]</tspan></text></g>
<g id="n98" transform="translate(2920.15 1573.3)"><rect x="-63.05" y="-25.28" width="126.1" height="50.56" class="u"/><text><tspan x="0" y="-5.07">samples = 2</tspan><tspan x="0" y="14.93">value = [0, 2]</tspan></text></g>
<g id="n99" transform="translate(3002.25 1464.71)"><rect x="-63.05" y="-25.28" width="126.1" height="50.56" class="u"/><text><tspan x="0" y="-5.07">samples = 3</tspan><tspan x="0" y="14.93">value = [0, 3]</tspan></text></g>
<g id="n100" transform="translate(3082.45 1346.04)"><rect x="-63.45" y="-25.28" width="126.9" height="50.56" class="o"/><text><tspan x="0" y="-5.07">samples = 3</tspan><tspan x="0" y="14.93">value = [3, 0]</tspan></text></g>
<g id="n101" transform="translate(3166.45 1227.37)"><rect x="-63.05" y="-25.28" width="126.1" height="50.56" class="u"/><text><tspan x="0" y="-5.07">samples = 2</tspan><tspan x="0" y="14.93">value = [0, 2]</tspan></text></g>
<g id="n102" transform="translate(3249.2 1108.7)"><rect x="-63.8" y="-25.28" width="127.6" height="50.56" class="u"/><text><tspan x="0" y="-5.07">samples = 2</tspan><tspan x="0" y="14.93">value = [0, 2]</tspan></text></g>
<g id="n103" transform="translate(3552.9 515.35)"><rect x="-67.5" y="-35.33" width="135" height="70.67" fill="#eead7e"/><text><tspan x="0" y="-15.07">SibSp &lt;= 0.5</tspan><tspan x="0" y="4.93">samples = 35</tspan><tspan x="0" y="24.93">value = [26, 9]</tspan></text></g>
<g id="n104" transform="translate(3552.9 634.02)"><rect x="-67.5" y="-35.33" width="135" height="70.67" fill="#ea9a61"/><text><tspan x="0" y="-15.07">Age &lt;= 75.5</tspan><tspan x="0" y="4.93">samples = 24</tspan><tspan x="0" y="24.93">value = [20, 4]</tspan></text></g>
<g id="n105" transform="translate(3475.7 752.69)"><rect x="-73.1" y="-35.33" width="146.2" height="70.67" fill="#e99457"/><text><tspan x="0" y="-15.07">Fare &lt;= 27.525</tspan><tspan x="0" y="4.93">samples = 23</tspan><tspan x="0" y="24.93">value = [20, 3]</tspan></text></g>
<g id="n106" transform="translate(3475.35 871.36)"><rect x="-63.05" y="-35.33" width="126.1" height="70.67" fill="#efb388"/><text><tspan x="0" y="-15.07">Age &lt;= 53.5</tspan><tspan x="0" y="4.93">samples = 7</tspan><tspan x="0" y="24.93">value = [5, 2]</tspan></text></g>
<g id="n107" transform="translate(3410.75 990.03)"><rect x="-63.45" y="-35.33" width="126.9" height="70.67" class="w"/><text><tspan x="0" y="-15.07">Age &lt;= 49.0</tspan><tspan x="0" y="4.93">samples = 4</tspan><tspan x="0" y="24.93">value = [2, 2]</tspan></text></g>
<g id="n108" transform="translate(3410.1 1108.7)"><rect x="-73.1" y="-35.33" width="146.2" height="70.67" fill="#f2c09c"/><text><tspan x="0" y="-15.07">Fare &lt;= 26.069</tspan><tspan x="0" y="4.93">samples = 3</tspan><tspan x="0" y="24.93">value = [2, 1]</tspan></text></g>
<g id="n109" transform="translate(3405.15 1227.37)"><rect x="-63.05" y="-25.28" width="126.1" height="50.56" class="o"/><text><tspan x="0" y="-5.07">samples = 1</tspan><tspan x="0" y="14.93">value = [1, 0]</tspan></text></g>
<g id="n110" transform="translate(3555.9 1227.37)"><rect x="-63.1" y="-25.28" width="126.2" height="50.56" class="w"/><text><tspan x="0" y="-5.07">samples = 2</tspan><tspan x="0" y="14.93">value = [1, 1]</tspan></text></g>
<g id="n111" transform="translate(3571.2 1108.7)"><rect x="-63.4" y="-25.28" width="126.8" height="50.56" class="u"/><text><tspan x="0" y="-5.07">samples = 1</tspan><tspan x="0" y="14.93">value = [0, 1]</tspan></text></g>
<g id="n112" transform="translate(3561.1 990.03)"><rect x="-63.1" y="-25.28" width="126.2" height="50.56" class="o"/><text><tspan x="0" y="-5.07">samples = 3</tspan><tspan x="0" y="14.93">value = [3, 0]</tspan></text></g>
<g id="n113" transform="translate(3712.2 871.36)"><rect x="-92.5" y="-35.33" width="185" height="70.67" fill="#e78946"/><text><tspan x="0" y="-15.07">Embarked_C &lt;= 0.5</tspan><tspan x="0" y="4.93">samples = 16</tspan><tspan x="0" y="24.93">value = [15, 1]</tspan></text></g>
<g id="n114" transform="translate(3711.85 990.03)"><rect x="-63.05" y="-25.28" width="126.1" height="50.56" class="o"/><text><tspan x="0" y="-5.07">samples = 8</tspan><tspan x="0" y="14.93">value = [8, 0]</tspan></text></g>
<g id="n115" transform="translate(3862.55 990.03)"><rect x="-63.05" y="-35.33" width="126.1" height="70.67" fill="#e99355"/><text><tspan x="0" y="-15.07">Age &lt;= 57.0</tspan><tspan x="0" y="4.93">samples = 8</tspan><tspan x="0" y="24.93">value = [7, 1]</tspan></text></g>
<g id="n116" transform="translate(3735.35 1108.7)"><rect x="-67.95" y="-35.33" width="135.9" height="70.67" fill="#eeab7b"/><text><tspan x="0" y="-15.07">Fare &lt;= 48.44</tspan><tspan x="0" y="4.93">samples = 4</tspan><tspan x="0" y="24.93">value = [3, 1]</tspan></text></g>
<g id="n117" transform="translate(3726.8 1227.37)"><rect x="-73.5" y="-35.33" width="147" height="70.67" class="w"/><text><tspan x="0" y="-15.07">Fare &lt;= 33.098</tspan><tspan x="0" y="4.93">samples = 2</tspan><tspan x="0" y="24.93">value = [1, 1]</tspan></text></g>
<g id="n118" transform="translate(3652.15 1346.04)"><rect x="-63.05" y="-25.28" width="126.1" height="50.56" class="o"/><text><tspan x="0" y="-5.07">samples = 1</tspan><tspan x="0" y="14.93">value = [1, 0]</tspan></text></g>
<g id="n119" transform="translate(3802.15 1346.04)"><rect x="-63.05" y="-25.28" width="126.1" height="50.56" class="u"/><text><tspan x="0" y="-5.07">samples = 1</tspan><tspan x="0" y="14.93">value = [0, 1]</tspan></text></g>
<g id="n120" transform="translate(3887.95 1227.37)"><rect x="-63.05" y="-25.28" width="126.1" height="50.56" class="o"/><text><tspan x="0" y="-5.07">samples = 2</tspan><tspan x="0" y="14.93">value = [2, 0]</tspan></text></g>
<g id="n121" transform="translate(3892.05 1108.7)"><rect x="-63.45" y="-25.28" width="126.9" height="50.56" class="o"/><text><tspan x="0" y="-5.07">samples = 4</tspan><tspan x="0" y="14.93">value = [4, 0]</tspan></text></g>
<g id="n122" transform="translate(3636.85 752.69)"><rect x="-63.45" y="-25.28" width="126.9" height="50.56" class="u"/><text><tspan x="0" y="-5.07">samples = 1</tspan><tspan x="0" y="14.93">value = [0, 1]</tspan></text></g>
<g id="n123" transform="translate(3787.95 634.02)"><rect x="-65.25" y="-35.33" width="130.5" height="70.67" fill="#fbeade"/><text><tspan x="0" y="-15.07">Age &lt;= 47.0</tspan><tspan x="0" y="4.93">samples = 11</tspan><tspan x="0" y="24.93">value = [6, 5]</tspan></text></g>
<g id="n124" transform="translate(3787.95 752.69)"><rect x="-63.05" y="-25.28" width="126.1" height="50.56" class="o"/><text><tspan x="0" y="-5.07">samples = 3</tspan><tspan x="0" y="14.93">value = [3, 0]</tspan></text></g>
<g id="n125" transform="translate(3949.1 752.69)"><rect x="-73.5" y="-35.33" width="147" height="70.67" fill="#b0d8f5"/><text><tspan x="0" y="-15.07">Fare &lt;= 56.415</tspan><tspan x="0" y="4.93">samples = 8</tspan><tspan x="0" y="24.93">value = [3, 5]</tspan></text></g>
<g id="n126" transform="translate(3921.15 871.36)"><rect x="-63.45" y="-25.28" width="126.9" height="50.56" class="o"/><text><tspan x="0" y="-5.07">samples = 1</tspan><tspan x="0" y="14.93">value = [1, 0]</tspan></text></g>
<g id="n127" transform="translate(4082.3 871.36)"><rect x="-73.1" y="-35.33" width="146.2" height="70.67" fill="#88c4ef"/><text><tspan x="0" y="-15.07">Fare &lt;= 97.765</tspan><tspan x="0" y="4.93">samples = 7</tspan><tspan x="0" y="24.93">value = [2, 5]</tspan></text></g>
<g id="n128" transform="translate(4013.25 990.03)"><rect x="-63.05" y="-25.28" width="126.1" height="50.56" class="u"/><text><tspan x="0" y="-5.07">samples = 4</tspan><tspan x="0" y="14.93">value = [0, 4]</tspan></text></g>
<g id="n129" transform="translate(4193.5 990.03)"><rect x="-92.5" y="-35.33" width="185" height="70.67" fill="#f2c09c"/><text><tspan x="0" y="-15.07">Embarked_C &lt;= 0.5</tspan><tspan x="0" y="4.93">samples = 3</tspan><tspan x="0" y="24.93">value = [2, 1]</tspan></text></g>
<g id="n130" transform="translate(4050.65 1108.7)"><rect x="-63.05" y="-25.28" width="126.1" height="50.56" class="u"/><text><tspan x="0" y="-5.07">samples = 1</tspan><tspan x="0" y="14.93">value = [0, 1]</tspan></text></g>
<g id="n131" transform="translate(4201.35 1108.7)"><rect x="-63.05" y="-25.28" width="126.1" height="50.56" class="o"/><text><tspan x="0" y="-5.07">samples = 2</tspan><tspan x="0" y="14.93">value = [2, 0]</tspan></text></g>
<g id="n132" transform="translate(5315.8 396.68)"><rect x="-78" y="-35.33" width="156" height="70.67" fill="#e99254"/><text><tspan x="0" y="-15.07">Age &lt;= 32.25</tspan><tspan x="0" y="4.93">samples = 267</tspan><tspan x="0" y="24.93">value = [235, 32]</tspan></text></g>
<g id="n133" transform="translate(5315.8 515.35)"><rect x="-78" y="-35.33" width="156" height="70.67" fill="#ea985d"/><text><tspan x="0" y="-15.07">Age &lt;= 30.75</tspan><tspan x="0" y="4.93">samples = 184</tspan><tspan x="0" y="24.93">value = [156, 28]</tspan></text></g>
<g id="n134" transform="translate(5187.8 634.02)"><rect x="-91.8" y="-35.33" width="183.6" height="70.67" fill="#e99356"/><text><tspan x="0" y="-15.07">Embarked_S &lt;= 0.5</tspan><tspan x="0" y="4.93">samples = 166</tspan><tspan x="0" y="24.93">value = [145, 21]</tspan></text></g>
<g id="n135" transform="translate(4771.85 752.69)"><rect x="-68.25" y="-35.33" width="136.5" height="70.67" fill="#f1bc95"/><text><tspan x="0" y="-15.07">Fare &lt;= 7.742</tspan><tspan x="0" y="4.93">samples = 22</tspan><tspan x="0" y="24.93">value = [15, 7]</tspan></text></g>
<g id="n136" transform="translate(4534.5 871.36)"><rect x="-64.9" y="-35.33" width="129.8" height="70.67" fill="#eb9d65"/><text><tspan x="0" y="-15.07">Age &lt;= 22.75</tspan><tspan x="0" y="4.93">samples = 11</tspan><tspan x="0" y="24.93">value = [9, 2]</tspan></text></g>
<g id="n137" transform="translate(4378.15 990.03)"><rect x="-67.55" y="-35.33" width="135.1" height="70.67" fill="#f2c09c"/><text><tspan x="0" y="-15.07">Fare &lt;= 7.227</tspan><tspan x="0" y="4.93">samples = 6</tspan><tspan x="0" y="24.93">value = [4, 2]</tspan></text></g>
<g id="n138" transform="translate(4355.75 1108.7)"><rect x="-63.05" y="-25.28" width="126.1" height="50.56" class="u"/><text><tspan x="0" y="-5.07">samples = 1</tspan><tspan x="0" y="14.93">value = [0, 1]</tspan></text></g>
<g id="n139" transform="translate(4506.55 1108.7)"><rect x="-63.05" y="-35.33" width="126.1" height="70.67" fill="#eca06a"/><text><tspan x="0" y="-15.07">Age &lt;= 18.5</tspan><tspan x="0" y="4.93">samples = 5</tspan><tspan x="0" y="24.93">value = [4, 1]</tspan></text></g>
<g id="n140" transform="translate(4356.9 1227.37)"><rect x="-63.4" y="-25.28" width="126.8" height="50.56" class="o"/><text><tspan x="0" y="-5.07">samples = 2</tspan><tspan x="0" y="14.93">value = [2, 0]</tspan></text></g>
<g id="n141" transform="translate(4508.05 1227.37)"><rect x="-63.05" y="-35.33" width="126.1" height="70.67" fill="#f2c09c"/><text><tspan x="0" y="-15.07">Age &lt;= 20.5</tspan><tspan x="0" y="4.93">samples = 3</tspan><tspan x="0" y="24.93">value = [2, 1]</tspan></text></g>
<g id="n142" transform="translate(4367.75 1346.04)"><rect x="-63.05" y="-25.28" width="126.1" height="50.56" class="u"/><text><tspan x="0" y="-5.07">samples = 1</tspan><tspan x="0" y="14.93">value = [0, 1]</tspan></text></g>
<g id="n143" transform="translate(4518.45 1346.04)"><rect x="-63.05" y="-25.28" width="126.1" height="50.56" class="o"/><text><tspan x="0" y="-5.07">samples = 2</tspan><tspan x="0" y="14.93">value = [2, 0]</tspan></text></g>
<g id="n144" transform="translate(4534.5 990.03)"><rect x="-63" y="-25.28" width="126" height="50.56" class="o"/><text><tspan x="0" y="-5.07">samples = 5</tspan><tspan x="0" y="14.93">value = [5, 0]</tspan></text></g>
<g id="n145" transform="translate(4771.8 871.36)"><rect x="-73.5" y="-35.33" width="147" height="70.67" fill="#fbeade"/><text><tspan x="0" y="-15.07">Fare &lt;= 12.848</tspan><tspan x="0" y="4.93">samples = 11</tspan><tspan x="0" y="24.93">value = [6, 5]</tspan></text></g>
<g id="n146" transform="translate(4685.5 990.03)"><rect x="-63.5" y="-25.28" width="127" height="50.56" class="u"/><text><tspan x="0" y="-5.07">samples = 3</tspan><tspan x="0" y="14.93">value = [0, 3]</tspan></text></g>
<g id="n147" transform="translate(4846.85 990.03)"><rect x="-73.15" y="-35.33" width="146.3" height="70.67" fill="#eeab7b"/><text><tspan x="0" y="-15.07">Fare &lt;= 21.394</tspan><tspan x="0" y="4.93">samples = 8</tspan><tspan x="0" y="24.93">value = [6, 2]</tspan></text></g>
<g id="n148" transform="translate(4755.4 1108.7)"><rect x="-73.5" y="-35.33" width="147" height="70.67" fill="#f6d5bd"/><text><tspan x="0" y="-15.07">Fare &lt;= 15.394</tspan><tspan x="0" y="4.93">samples = 5</tspan><tspan x="0" y="24.93">value = [3, 2]</tspan></text></g>
<g id="n149" transform="translate(4678.7 1227.37)"><rect x="-63.7" y="-25.28" width="127.4" height="50.56" class="o"/><text><tspan x="0" y="-5.07">samples = 2</tspan><tspan x="0" y="14.93">value = [2, 0]</tspan></text></g>
<g id="n150" transform="translate(4828.9 1227.37)"><rect x="-63.4" y="-35.33" width="126.8" height="70.67" fill="#9ccef2"/><text><tspan x="0" y="-15.07">Age &lt;= 15.5</tspan><tspan x="0" y="4.93">samples = 3</tspan><tspan x="0" y="24.93">value = [1, 2]</tspan></text></g>
<g id="n151" transform="translate(4678.7 1346.04)"><rect x="-63.7" y="-25.28" width="127.4" height="50.56" class="o"/><text><tspan x="0" y="-5.07">samples = 1</tspan><tspan x="0" y="14.93">value = [1, 0]</tspan></text></g>
<g id="n152" transform="translate(4828.9 1346.04)"><rect x="-63.4" y="-25.28" width="126.8" height="50.56" class="u"/><text><tspan x="0" y="-5.07">samples = 2</tspan><tspan x="0" y="14.93">value = [0, 2]</tspan></text></g>
<g id="n153" transform="translate(4916.95 1108.7)"><rect x="-63.45" y="-25.28" width="126.9" height="50.56" class="o"/><text><tspan x="0" y="-5.07">samples = 3</tspan><tspan x="0" y="14.93">value = [3, 0]</tspan></text></g>
<g id="n154" transform="translate(5187.45 752.69)"><rect x="-77.95" y="-35.33" width="155.9" height="70.67" fill="#e88f4e"/><text><tspan x="0" y="-15.07">Fare &lt;= 7.01</tspan><tspan x="0" y="4.93">samples = 144</tspan><tspan x="0" y="24.93">value = [130, 14]</tspan></text></g>
<g id="n155" transform="translate(5152 871.36)"><rect x="-63.4" y="-35.33" width="126.8" height="70.67" class="w"/><text><tspan x="0" y="-15.07">Age &lt;= 22.0</tspan><tspan x="0" y="4.93">samples = 4</tspan><tspan x="0" y="24.93">value = [2, 2]</tspan></text></g>
<g id="n156" transform="translate(5007.65 990.03)"><rect x="-63.05" y="-25.28" width="126.1" height="50.56" class="o"/><text><tspan x="0" y="-5.07">samples = 2</tspan><tspan x="0" y="14.93">value = [2, 0]</tspan></text></g>
<g id="n157" transform="translate(5158.35 990.03)"><rect x="-63.05" y="-25.28" width="126.1" height="50.56" class="u"/><text><tspan x="0" y="-5.07">samples = 2</tspan><tspan x="0" y="14.93">value = [0, 2]</tspan></text></g>
<g id="n158" transform="translate(5316.55 871.36)"><rect x="-77.95" y="-35.33" width="155.9" height="70.67" fill="#e78d4c"/><text><tspan x="0" y="-15.07">Age &lt;= 9.5</tspan><tspan x="0" y="4.93">samples = 140</tspan><tspan x="0" y="24.93">value = [128, 12]</tspan></text></g>
<g id="n159" transform="translate(5309.45 990.03)"><rect x="-63.45" y="-35.33" width="126.9" height="70.67" fill="#f6d5bd"/><text><tspan x="0" y="-15.07">SibSp &lt;= 2.5</tspan><tspan x="0" y="4.93">samples = 5</tspan><tspan x="0" y="24.93">value = [3, 2]</tspan></text></g>
<g id="n160" transform="translate(5157.2 1108.7)"><rect x="-63.4" y="-25.28" width="126.8" height="50.56" class="u"/><text><tspan x="0" y="-5.07">samples = 2</tspan><tspan x="0" y="14.93">value = [0, 2]</tspan></text></g>
<g id="n161" transform="translate(5307.95 1108.7)"><rect x="-63.45" y="-25.28" width="126.9" height="50.56" class="o"/><text><tspan x="0" y="-5.07">samples = 3</tspan><tspan x="0" y="14.93">value = [3, 0]</tspan></text></g>
<g id="n162" transform="translate(5474.75 990.03)"><rect x="-77.95" y="-35.33" width="155.9" height="70.67" fill="#e78b49"/><text><tspan x="0" y="-15.07">Fare &lt;= 9.673</tspan><tspan x="0" y="4.93">samples = 135</tspan><tspan x="0" y="24.93">value = [125, 10]</tspan></text></g>
<g id="n163" transform="translate(5463.9 1108.7)"><rect x="-67.9" y="-35.33" width="135.8" height="70.67" fill="#e88f4f"/><text><tspan x="0" y="-15.07">Age &lt;= 26.5</tspan><tspan x="0" y="4.93">samples = 89</tspan><tspan x="0" y="24.93">value = [80, 9]</tspan></text></g>
<g id="n164" transform="translate(5160.95 1227.37)"><rect x="-67.95" y="-35.33" width="135.9" height="70.67" fill="#e78c4a"/><text><tspan x="0" y="-15.07">Fare &lt;= 8.175</tspan><tspan x="0" y="4.93">samples = 72</tspan><tspan x="0" y="24.93">value = [66, 6]</tspan></text></g>
<g id="n165" transform="translate(5001.3 1346.04)"><rect x="-67.9" y="-35.33" width="135.8" height="70.67" fill="#e89050"/><text><tspan x="0" y="-15.07">Fare &lt;= 7.988</tspan><tspan x="0" y="4.93">samples = 57</tspan><tspan x="0" y="24.93">value = [51, 6]</tspan></text></g>
<g id="n166" transform="translate(4845.3 1464.71)"><rect x="-67.9" y="-35.33" width="135.8" height="70.67" fill="#e78a47"/><text><tspan x="0" y="-15.07">Fare &lt;= 7.825</tspan><tspan x="0" y="4.93">samples = 44</tspan><tspan x="0" y="24.93">value = [41, 3]</tspan></text></g>
<g id="n167" transform="translate(4686.15 1573.3)"><rect x="-68.15" y="-25.28" width="136.3" height="50.56" fill="#e89152"/><text><tspan x="0" y="-5.07">samples = 27</tspan><tspan x="0" y="14.93">value = [24, 3]</tspan></text></g>
<g id="n168" transform="translate(4846.8 1573.3)"><rect x="-67.9" y="-25.28" width="135.8" height="50.56" class="o"/><text><tspan x="0" y="-5.07">samples = 17</tspan><tspan x="0" y="14.93">value = [17, 0]</tspan></text></g>
<g id="n169" transform="translate(5005.05 1464.71)"><rect x="-67.95" y="-35.33" width="135.9" height="70.67" fill="#eda774"/><text><tspan x="0" y="-15.07">Age &lt;= 19.5</tspan><tspan x="0" y="4.93">samples = 13</tspan><tspan x="0" y="24.93">value = [10, 3]</tspan></text></g>
<g id="n170" transform="translate(5003.95 1573.3)"><rect x="-63.05" y="-25.28" width="126.1" height="50.56" fill="#bddef6"/><text><tspan x="0" y="-5.07">samples = 5</tspan><tspan x="0" y="14.93">value = [2, 3]</tspan></text></g>
<g id="n171" transform="translate(5154.65 1573.3)"><rect x="-63.05" y="-25.28" width="126.1" height="50.56" class="o"/><text><tspan x="0" y="-5.07">samples = 8</tspan><tspan x="0" y="14.93">value = [8, 0]</tspan></text></g>
<g id="n172" transform="translate(5160.95 1346.04)"><rect x="-67.95" y="-25.28" width="135.9" height="50.56" class="o"/><text><tspan x="0" y="-5.07">samples = 15</tspan><tspan x="0" y="14.93">value = [15, 0]</tspan></text></g>
<g id="n173" transform="translate(5462.4 1227.37)"><rect x="-67.9" y="-35.33" width="135.8" height="70.67" fill="#eb9c63"/><text><tspan x="0" y="-15.07">Age &lt;= 27.5</tspan><tspan x="0" y="4.93">samples = 17</tspan><tspan x="0" y="24.93">value = [14, 3]</tspan></text></g>
<g id="n174" transform="translate(5321.4 1346.04)"><rect x="-67.9" y="-35.33" width="135.8" height="70.67" fill="#9ccef2"/><text><tspan x="0" y="-15.07">Fare &lt;= 7.846</tspan><tspan x="0" y="4.93">samples = 3</tspan><tspan x="0" y="24.93">value = [1, 2]</tspan></text></g>
<g id="n175" transform="translate(5165.05 1464.71)"><rect x="-63.05" y="-25.28" width="126.1" height="50.56" class="u"/><text><tspan x="0" y="-5.07">samples = 1</tspan><tspan x="0" y="14.93">value = [0, 1]</tspan></text></g>
<g id="n176" transform="translate(5321.4 1464.71)"><rect x="-67.9" y="-35.33" width="135.8" height="70.67" class="w"/><text><tspan x="0" y="-15.07">Fare &lt;= 8.279</tspan><tspan x="0" y="4.93">samples = 2</tspan><tspan x="0" y="24.93">value = [1, 1]</tspan></text></g>
<g id="n177" transform="translate(5313.2 1573.3)"><rect x="-63.4" y="-25.28" width="126.8" height="50.56" class="o"/><text><tspan x="0" y="-5.07">samples = 1</tspan><tspan x="0" y="14.93">value = [1, 0]</tspan></text></g>
<g id="n178" transform="translate(5463.9 1573.3)"><rect x="-63.4" y="-25.28" width="126.8" height="50.56" class="u"/><text><tspan x="0" y="-5.07">samples = 1</tspan><tspan x="0" y="14.93">value = [0, 1]</tspan></text></g>
<g id="n179" transform="translate(5481.1 1346.04)"><rect x="-67.9" y="-35.33" width="135.8" height="70.67" fill="#e78b48"/><text><tspan x="0" y="-15.07">Fare &lt;= 9.492</tspan><tspan x="0" y="4.93">samples = 14</tspan><tspan x="0" y="24.93">value = [13, 1]</tspan></text></g>
<g id="n180" transform="translate(5481.1 1464.71)"><rect x="-67.9" y="-25.28" width="135.8" height="50.56" class="o"/><text><tspan x="0" y="-5.07">samples = 11</tspan><tspan x="0" y="14.93">value = [11, 0]</tspan></text></g>
<g id="n181" transform="translate(5637.45 1464.71)"><rect x="-63.05" y="-35.33" width="126.1" height="70.67" fill="#f2c09c"/><text><tspan x="0" y="-15.07">Age &lt;= 28.5</tspan><tspan x="0" y="4.93">samples = 3</tspan><tspan x="0" y="24.93">value = [2, 1]</tspan></text></g>
<g id="n182" transform="translate(5625.45 1573.3)"><rect x="-63.05" y="-25.28" width="126.1" height="50.56" class="o"/><text><tspan x="0" y="-5.07">samples = 2</tspan><tspan x="0" y="14.93">value = [2, 0]</tspan></text></g>
<g id="n183" transform="translate(5777.65 1573.3)"><rect x="-63.05" y="-25.28" width="126.1" height="50.56" class="u"/><text><tspan x="0" y="-5.07">samples = 1</tspan><tspan x="0" y="14.93">value = [0, 1]</tspan></text></g>
<g id="n184" transform="translate(5628.8 1108.7)"><rect x="-73.1" y="-35.33" width="146.2" height="70.67" fill="#e6843d"/><text><tspan x="0" y="-15.07">Fare &lt;= 51.698</tspan><tspan x="0" y="4.93">samples = 46</tspan><tspan x="0" y="24.93">value = [45, 1]</tspan></text></g>
<g id="n185" transform="translate(5622.5 1227.37)"><rect x="-68.3" y="-25.28" width="136.6" height="50.56" class="o"/><text><tspan x="0" y="-5.07">samples = 41</tspan><tspan x="0" y="14.93">value = [41, 0]</tspan></text></g>
<g id="n186" transform="translate(5788.1 1227.37)"><rect x="-73.5" y="-35.33" width="147" height="70.67" fill="#eca06a"/><text><tspan x="0" y="-15.07">Fare &lt;= 64.998</tspan><tspan x="0" y="4.93">samples = 5</tspan><tspan x="0" y="24.93">value = [4, 1]</tspan></text></g>
<g id="n187" transform="translate(5787.7 1346.04)"><rect x="-62.7" y="-35.33" width="125.4" height="70.67" class="w"/><text><tspan x="0" y="-15.07">Age &lt;= 27.0</tspan><tspan x="0" y="4.93">samples = 2</tspan><tspan x="0" y="24.93">value = [1, 1]</tspan></text></g>
<g id="n188" transform="translate(5787.7 1464.71)"><rect x="-62.7" y="-25.28" width="125.4" height="50.56" class="u"/><text><tspan x="0" y="-5.07">samples = 1</tspan><tspan x="0" y="14.93">value = [0, 1]</tspan></text></g>
<g id="n189" transform="translate(5938.1 1464.71)"><rect x="-63.1" y="-25.28" width="126.2" height="50.56" class="o"/><text><tspan x="0" y="-5.07">samples = 1</tspan><tspan x="0" y="14.93">value = [1, 0]</tspan></text></g>
<g id="n190" transform="translate(5938.1 1346.04)"><rect x="-63.1" y="-25.28" width="126.2" height="50.56" class="o"/><text><tspan x="0" y="-5.07">samples = 3</tspan><tspan x="0" y="14.93">value = [3, 0]</tspan></text></g>
<g id="n191" transform="translate(5444.85 634.02)"><rect x="-67.55" y="-35.33" width="135.1" height="70.67" fill="#f6d1b7"/><text><tspan x="0" y="-15.07">Fare &lt;= 7.815</tspan><tspan x="0" y="4.93">samples = 18</tspan><tspan x="0" y="24.93">value = [11, 7]</tspan></text></g>
<g id="n192" transform="translate(5444.9 752.69)"><rect x="-63.1" y="-25.28" width="126.2" height="50.56" class="o"/><text><tspan x="0" y="-5.07">samples = 3</tspan><tspan x="0" y="14.93">value = [3, 0]</tspan></text></g>
<g id="n193" transform="translate(5663.9 752.69)"><rect x="-67.9" y="-35.33" width="135.8" height="70.67" fill="#fcefe6"/><text><tspan x="0" y="-15.07">Fare &lt;= 7.875</tspan><tspan x="0" y="4.93">samples = 15</tspan><tspan x="0" y="24.93">value = [8, 7]</tspan></text></g>
<g id="n194" transform="translate(5663.55 871.36)"><rect x="-63.05" y="-25.28" width="126.1" height="50.56" class="u"/><text><tspan x="0" y="-5.07">samples = 1</tspan><tspan x="0" y="14.93">value = [0, 1]</tspan></text></g>
<g id="n195" transform="translate(5965.3 871.36)"><rect x="-67.9" y="-35.33" width="135.8" height="70.67" fill="#f8e0ce"/><text><tspan x="0" y="-15.07">Fare &lt;= 11.75</tspan><tspan x="0" y="4.93">samples = 14</tspan><tspan x="0" y="24.93">value = [8, 6]</tspan></text></g>
<g id="n196" transform="translate(5965.3 990.03)"><rect x="-67.9" y="-35.33" width="135.8" height="70.67" fill="#efb388"/><text><tspan x="0" y="-15.07">Fare &lt;= 8.144</tspan><tspan x="0" y="4.93">samples = 7</tspan><tspan x="0" y="24.93">value = [5, 2]</tspan></text></g>
<g id="n197" transform="translate(5946.7 1108.7)"><rect x="-63.4" y="-35.33" width="126.8" height="70.67" fill="#f6d5bd"/><text><tspan x="0" y="-15.07">Age &lt;= 31.5</tspan><tspan x="0" y="4.93">samples = 5</tspan><tspan x="0" y="24.93">value = [3, 2]</tspan></text></g>
<g id="n198" transform="translate(5948.95 1227.37)"><rect x="-63.45" y="-25.28" width="126.9" height="50.56" class="u"/><text><tspan x="0" y="-5.07">samples = 1</tspan><tspan x="0" y="14.93">value = [0, 1]</tspan></text></g>
<g id="n199" transform="translate(6100.05 1227.37)"><rect x="-63.05" y="-35.33" width="126.1" height="70.67" fill="#eeab7b"/><text><tspan x="0" y="-15.07">Fare &lt;= 7.91</tspan><tspan x="0" y="4.93">samples = 4</tspan><tspan x="0" y="24.93">value = [3, 1]</tspan></text></g>
<g id="n200" transform="translate(6094.85 1346.04)"><rect x="-63.05" y="-25.28" width="126.1" height="50.56" class="o"/><text><tspan x="0" y="-5.07">samples = 1</tspan><tspan x="0" y="14.93">value = [1, 0]</tspan></text></g>
<g id="n201" transform="translate(6245.15 1346.04)"><rect x="-63.45" y="-25.28" width="126.9" height="50.56" fill="#f2c09c"/><text><tspan x="0" y="-5.07">samples = 3</tspan><tspan x="0" y="14.93">value = [2, 1]</tspan></text></g>
<g id="n202" transform="translate(6097.45 1108.7)"><rect x="-63.45" y="-25.28" width="126.9" height="50.56" class="o"/><text><tspan x="0" y="-5.07">samples = 2</tspan><tspan x="0" y="14.93">value = [2, 0]</tspan></text></g>
<g id="n203" transform="translate(6160.1 990.03)"><rect x="-63.4" y="-35.33" width="126.8" height="70.67" fill="#cee6f8"/><text><tspan x="0" y="-15.07">SibSp &lt;= 0.5</tspan><tspan x="0" y="4.93">samples = 7</tspan><tspan x="0" y="24.93">value = [3, 4]</tspan></text></g>
<g id="n204" transform="translate(6248.15 1108.7)"><rect x="-63.45" y="-25.28" width="126.9" height="50.56" class="u"/><text><tspan x="0" y="-5.07">samples = 3</tspan><tspan x="0" y="14.93">value = [0, 3]</tspan></text></g>
<g id="n205" transform="translate(6409 1108.7)"><rect x="-73.5" y="-35.33" width="147" height="70.67" fill="#eeab7b"/><text><tspan x="0" y="-15.07">Fare &lt;= 31.502</tspan><tspan x="0" y="4.93">samples = 4</tspan><tspan x="0" y="24.93">value = [3, 1]</tspan></text></g>
<g id="n206" transform="translate(6405.25 1227.37)"><rect x="-66.05" y="-35.33" width="132.1" height="70.67" class="w"/><text><tspan x="0" y="-15.07">Pclass &lt;= 2.5</tspan><tspan x="0" y="4.93">samples = 2</tspan><tspan x="0" y="24.93">value = [1, 1]</tspan></text></g>
<g id="n207" transform="translate(6404.1 1346.04)"><rect x="-63.4" y="-25.28" width="126.8" height="50.56" class="u"/><text><tspan x="0" y="-5.07">samples = 1</tspan><tspan x="0" y="14.93">value = [0, 1]</tspan></text></g>
<g id="n208" transform="translate(6554.45 1346.04)"><rect x="-63.05" y="-25.28" width="126.1" height="50.56" class="o"/><text><tspan x="0" y="-5.07">samples = 1</tspan><tspan x="0" y="14.93">value = [1, 0]</tspan></text></g>
<g id="n209" transform="translate(6558.55 1227.37)"><rect x="-63.45" y="-25.28" width="126.9" height="50.56" class="o"/><text><tspan x="0" y="-5.07">samples = 2</tspan><tspan x="0" y="14.93">value = [2, 0]</tspan></text></g>
<g id="n210" transform="translate(6025.05 515.35)"><rect x="-73.15" y="-35.33" width="146.3" height="70.67" fill="#e68743"/><text><tspan x="0" y="-15.07">Fare &lt;= 11.387</tspan><tspan x="0" y="4.93">samples = 83</tspan><tspan x="0" y="24.93">value = [79, 4]</tspan></text></g>
<g id="n211" transform="translate(6025 634.02)"><rect x="-67.9" y="-35.33" width="135.8" height="70.67" fill="#e78c4b"/><text><tspan x="0" y="-15.07">Fare &lt;= 7.91</tspan><tspan x="0" y="4.93">samples = 49</tspan><tspan x="0" y="24.93">value = [45, 4]</tspan></text></g>
<g id="n212" transform="translate(6025 752.69)"><rect x="-67.9" y="-25.28" width="135.8" height="50.56" class="o"/><text><tspan x="0" y="-5.07">samples = 28</tspan><tspan x="0" y="14.93">value = [28, 0]</tspan></text></g>
<g id="n213" transform="translate(6386.9 752.69)"><rect x="-67.9" y="-35.33" width="135.8" height="70.67" fill="#eb9f68"/><text><tspan x="0" y="-15.07">Fare &lt;= 7.988</tspan><tspan x="0" y="4.93">samples = 21</tspan><tspan x="0" y="24.93">value = [17, 4]</tspan></text></g>
<g id="n214" transform="translate(6386.9 871.36)"><rect x="-63.4" y="-35.33" width="126.8" height="70.67" fill="#9ccef2"/><text><tspan x="0" y="-15.07">SibSp &lt;= 1.0</tspan><tspan x="0" y="4.93">samples = 3</tspan><tspan x="0" y="24.93">value = [1, 2]</tspan></text></g>
<g id="n215" transform="translate(6310.8 990.03)"><rect x="-63.4" y="-25.28" width="126.8" height="50.56" class="u"/><text><tspan x="0" y="-5.07">samples = 2</tspan><tspan x="0" y="14.93">value = [0, 2]</tspan></text></g>
<g id="n216" transform="translate(6460.8 990.03)"><rect x="-63.4" y="-25.28" width="126.8" height="50.56" class="o"/><text><tspan x="0" y="-5.07">samples = 1</tspan><tspan x="0" y="14.93">value = [1, 0]</tspan></text></g>
<g id="n217" transform="translate(6617.5 871.36)"><rect x="-67.9" y="-35.33" width="135.8" height="70.67" fill="#e89152"/><text><tspan x="0" y="-15.07">Age &lt;= 44.5</tspan><tspan x="0" y="4.93">samples = 18</tspan><tspan x="0" y="24.93">value = [16, 2]</tspan></text></g>
<g id="n218" transform="translate(6617.5 990.03)"><rect x="-67.9" y="-25.28" width="135.8" height="50.56" class="o"/><text><tspan x="0" y="-5.07">samples = 11</tspan><tspan x="0" y="14.93">value = [11, 0]</tspan></text></g>
<g id="n219" transform="translate(6773.45 990.03)"><rect x="-63.45" y="-35.33" width="126.9" height="70.67" fill="#efb388"/><text><tspan x="0" y="-15.07">Age &lt;= 46.0</tspan><tspan x="0" y="4.93">samples = 7</tspan><tspan x="0" y="24.93">value = [5, 2]</tspan></text></g>
<g id="n220" transform="translate(6642.85 1108.7)"><rect x="-63.45" y="-25.28" width="126.9" height="50.56" class="u"/><text><tspan x="0" y="-5.07">samples = 1</tspan><tspan x="0" y="14.93">value = [0, 1]</tspan></text></g>
<g id="n221" transform="translate(6792.85 1108.7)"><rect x="-63.45" y="-35.33" width="126.9" height="70.67" fill="#ea9a61"/><text><tspan x="0" y="-15.07">Age &lt;= 56.5</tspan><tspan x="0" y="4.93">samples = 6</tspan><tspan x="0" y="24.93">value = [5, 1]</tspan></text></g>
<g id="n222" transform="translate(6713 1227.37)"><rect x="-63.4" y="-25.28" width="126.8" height="50.56" class="o"/><text><tspan x="0" y="-5.07">samples = 3</tspan><tspan x="0" y="14.93">value = [3, 0]</tspan></text></g>
<g id="n223" transform="translate(6864.05 1227.37)"><rect x="-63.05" y="-35.33" width="126.1" height="70.67" fill="#f2c09c"/><text><tspan x="0" y="-15.07">Age &lt;= 64.0</tspan><tspan x="0" y="4.93">samples = 3</tspan><tspan x="0" y="24.93">value = [2, 1]</tspan></text></g>
<g id="n224" transform="translate(6787.6 1346.04)"><rect x="-63.4" y="-25.28" width="126.8" height="50.56" class="u"/><text><tspan x="0" y="-5.07">samples = 1</tspan><tspan x="0" y="14.93">value = [0, 1]</tspan></text></g>
<g id="n225" transform="translate(6938.4 1346.04)"><rect x="-63.4" y="-25.28" width="126.8" height="50.56" class="o"/><text><tspan x="0" y="-5.07">samples = 2</tspan><tspan x="0" y="14.93">value = [2, 0]</tspan></text></g>
<g id="n226" transform="translate(6185.1 634.02)"><rect x="-67.5" y="-25.28" width="135" height="50.56" class="o"/><text><tspan x="0" y="-5.07">samples = 34</tspan><tspan x="0" y="14.93">value = [34, 0]</tspan></text></g>
</g>
</svg>
